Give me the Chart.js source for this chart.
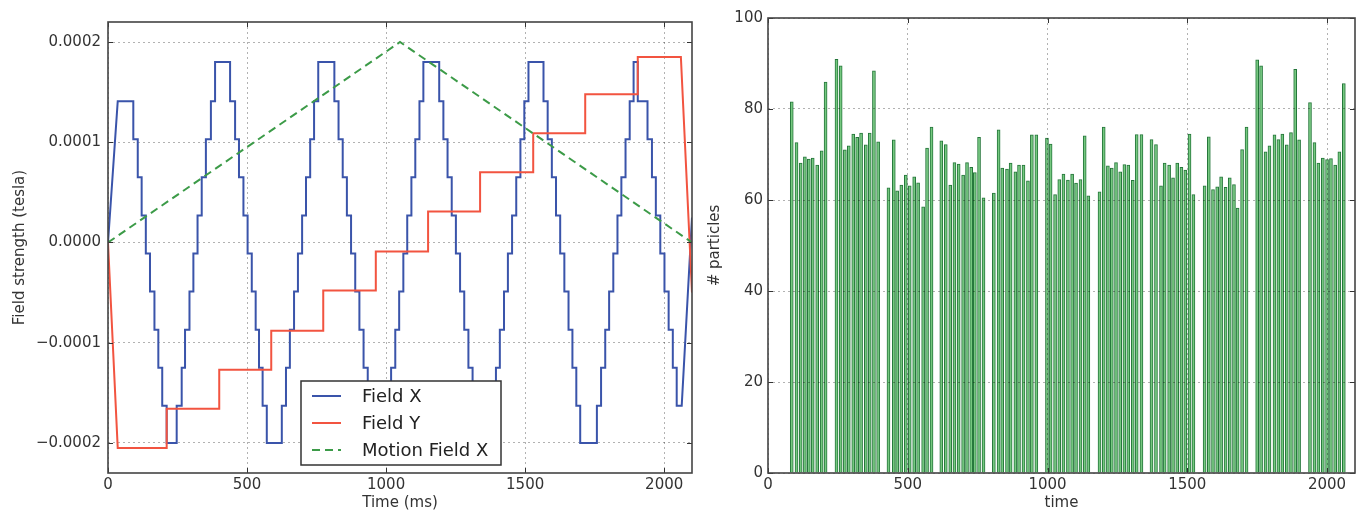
<!DOCTYPE html>
<html>
<head>
<meta charset="utf-8">
<title>Field strength and particle count</title>
<script src="https://cdn.jsdelivr.net/npm/chart.js@4.4.1/dist/chart.umd.min.js"></script>
<style>
  html, body { margin: 0; padding: 0; background: #fff; }
  #wrap { position: relative; width: 1360px; height: 512px; }
  #fieldChart { position: absolute; left: 0; top: 0; }
  #particleChart { position: absolute; left: 700px; top: 0; }
</style>
</head>
<body>
<div id="wrap">
  <canvas id="fieldChart" width="700" height="512"></canvas>
  <canvas id="particleChart" width="660" height="512"></canvas>
</div>
<script>
// tick positions
const timeTicks = [0, 500, 1000, 1500, 2000];
const fieldTicks = [-0.0002, -0.0001, 0, 0.0001, 0.0002];
const particleTicks = [0, 20, 40, 60, 80, 100];

// Field X staircase: time (ms) of each level change and the level after it (microtesla)
const fieldXTime = [
  35, 91, 107, 121, 136, 151, 167, 181, 195, 211,
  247, 265, 277, 293, 307, 322, 337, 352, 370, 385,
  439, 457, 471, 487, 502, 517, 531, 543, 556, 571,
  625, 640, 654, 669, 683, 698, 712, 727, 741, 756,
  814, 829, 844, 859, 874, 889, 904, 919, 934, 949,
  1003, 1018, 1033, 1047, 1062, 1076, 1091, 1105, 1120, 1134,
  1191, 1206, 1221, 1236, 1251, 1266, 1281, 1296, 1311, 1326,
  1380, 1395, 1409, 1424, 1438, 1453, 1468, 1483, 1497, 1512,
  1566, 1581, 1596, 1611, 1626, 1641, 1656, 1670, 1684, 1698,
  1758, 1773, 1788, 1802, 1817, 1832, 1846, 1861, 1876, 1890,
  1905, 1940, 1956, 1970, 1986, 2001, 2016, 2031, 2045
];
const fieldXLevel = [
  141, 103, 65, 27, -11, -49, -87, -125, -163, -200,
  -163, -125, -87, -49, -11, 27, 65, 103, 141, 180,
  141, 103, 65, 27, -11, -49, -87, -125, -163, -200,
  -163, -125, -87, -49, -11, 27, 65, 103, 141, 180,
  141, 103, 65, 27, -11, -49, -87, -125, -163, -200,
  -163, -125, -87, -49, -11, 27, 65, 103, 141, 180,
  141, 103, 65, 27, -11, -49, -87, -125, -163, -200,
  -163, -125, -87, -49, -11, 27, 65, 103, 141, 180,
  141, 103, 65, 27, -11, -49, -87, -125, -163, -200,
  -163, -125, -87, -49, -11, 27, 65, 103, 141, 180,
  141, 103, 65, 27, -11, -49, -87, -125, -163
];
const fieldXStart = [[0, 0]];
const fieldXEnd = [[2063, -163], [2100, 25]];

// Field Y staircase (microtesla)
const fieldYTime = [35, 211, 400, 587, 774, 963, 1151, 1338, 1529, 1716, 1905];
const fieldYLevel = [-205, -166, -127, -88, -48, -9, 31, 70, 109, 148, 185];
const fieldYStart = [[0, 0]];
const fieldYEnd = [[2060, 185], [2100, -50]];

// Motion field X (microtesla)
const motionTime = [0, 1050, 2100];
const motionLevel = [0, 200, 0];

// particle counts per time bin
const particleTime = [
  85, 102, 117, 132, 146, 160, 176, 192, 206,
  245, 260, 275, 289, 305, 319, 333, 350, 364, 379, 394,
  431, 450, 462, 477, 493, 507, 523, 537, 555, 569, 585,
  620, 636, 652, 667, 682, 698, 712, 727, 740, 755, 771,
  808, 825, 838, 855, 868, 885, 898, 914, 930, 944, 960,
  998, 1011, 1027, 1042, 1057, 1073, 1088, 1102, 1118, 1133, 1146,
  1186, 1201, 1216, 1230, 1245, 1260, 1275, 1289, 1305, 1319, 1336,
  1372, 1388, 1406, 1419, 1435, 1449, 1464, 1479, 1493, 1508, 1522,
  1562, 1577, 1592, 1607, 1621, 1637, 1652, 1667, 1680, 1696, 1712,
  1750, 1764, 1780, 1794, 1812, 1826, 1840, 1856, 1871, 1886, 1900,
  1939, 1955, 1969, 1985, 2000, 2014, 2029, 2044, 2060
];
const particleCount = [
  81.6, 72.6, 68.1, 69.5, 69.0, 69.2, 67.7, 70.8, 85.9,
  90.9, 89.5, 71.0, 71.9, 74.5, 73.8, 74.7, 72.1, 74.7, 88.4, 72.8,
  62.7, 73.2, 62.0, 63.3, 65.5, 63.1, 65.1, 63.8, 58.5, 71.4, 76.0,
  73.0, 72.2, 63.3, 68.2, 67.9, 65.5, 68.2, 67.2, 66.0, 73.8, 60.5,
  61.5, 75.4, 67.0, 66.8, 68.1, 66.2, 67.7, 67.7, 64.2, 74.3, 74.3,
  73.6, 72.3, 61.2, 64.5, 65.7, 64.4, 65.7, 63.7, 64.5, 74.1, 60.9,
  61.8, 76.0, 67.5, 67.0, 68.2, 66.2, 67.8, 67.7, 64.3, 74.4, 74.4,
  73.3, 72.2, 63.1, 68.1, 67.7, 64.9, 68.1, 67.2, 66.6, 74.5, 61.2,
  63.1, 73.9, 62.3, 62.9, 65.1, 62.8, 64.9, 63.4, 58.2, 71.1, 76.0,
  90.8, 89.5, 70.6, 71.9, 74.3, 73.3, 74.5, 72.1, 74.8, 88.7, 73.2,
  81.4, 72.6, 68.1, 69.2, 68.9, 69.1, 67.7, 70.6, 85.6
];

const MICRO = 1e-6;

// turn a level-change table into line vertices (vertical jumps at each change)
function stepPoints(start, times, levels, end) {
  const pts = start.map(([t, v]) => ({ x: t, y: v * MICRO }));
  times.forEach((t, i) => {
    if (i > 0) pts.push({ x: t, y: levels[i - 1] * MICRO });
    pts.push({ x: t, y: levels[i] * MICRO });
  });
  end.forEach(([t, v]) => pts.push({ x: t, y: v * MICRO }));
  return pts;
}

// pin a scale's ticks to a fixed list
function fixedTicks(values) {
  return scale => { scale.ticks = values.map(v => ({ value: v })); };
}

Chart.defaults.font.family = "'DejaVu Sans', sans-serif";
Chart.defaults.color = '#333';

const tickFont = { family: "'DejaVu Sans', sans-serif", size: 15 };
const gridStyle = { color: 'rgba(0,0,0,0.3)', lineWidth: 1, drawTicks: false };
const gridBorder = { display: false, dash: [2, 3] };

// frame round the plot area plus inward tick marks on all four sides
const frameTicks = {
  id: 'frameTicks',
  afterDraw(chart) {
    const { ctx, chartArea: a, scales } = chart;
    ctx.save();
    ctx.strokeStyle = '#333';
    ctx.lineWidth = 1;
    ctx.beginPath();
    scales.x.ticks.forEach((t, i) => {
      const px = Math.round(scales.x.getPixelForTick(i)) + 0.5;
      ctx.moveTo(px, a.bottom); ctx.lineTo(px, a.bottom - 5);
      ctx.moveTo(px, a.top); ctx.lineTo(px, a.top + 5);
    });
    scales.y.ticks.forEach((t, i) => {
      const py = Math.round(scales.y.getPixelForTick(i)) + 0.5;
      ctx.moveTo(a.left, py); ctx.lineTo(a.left + 5, py);
      ctx.moveTo(a.right, py); ctx.lineTo(a.right - 5, py);
    });
    ctx.stroke();
    ctx.strokeStyle = '#444';
    ctx.lineWidth = 1.6;
    ctx.strokeRect(a.left, a.top, a.right - a.left, a.bottom - a.top);
    ctx.restore();
  }
};

// boxed legend in the lower middle of the field plot
const fieldLegend = {
  id: 'fieldLegend',
  afterDraw(chart) {
    const { ctx, chartArea: a } = chart;
    const left = a.left + 193, top = a.top + 359, w = 200, h = 84;
    ctx.save();
    ctx.fillStyle = '#fff';
    ctx.fillRect(left, top, w, h);
    ctx.strokeStyle = '#333';
    ctx.lineWidth = 1.5;
    ctx.strokeRect(left, top, w, h);
    ctx.font = "18px 'DejaVu Sans', sans-serif";
    ctx.textBaseline = 'middle';
    chart.data.datasets.forEach((ds, i) => {
      const y = top + 15 + i * 27;
      ctx.strokeStyle = ds.borderColor;
      ctx.lineWidth = ds.borderWidth;
      ctx.setLineDash(ds.borderDash || []);
      ctx.beginPath();
      ctx.moveTo(left + 11, y);
      ctx.lineTo(left + 40, y);
      ctx.stroke();
      ctx.setLineDash([]);
      ctx.fillStyle = '#222';
      ctx.fillText(ds.label, left + 61, y + 1);
    });
    ctx.restore();
  }
};

function teslaLabel(v) {
  if (Math.abs(v) < 1e-9) return '0.0000';
  const s = v.toFixed(4);
  return s[0] === '-' ? '\u2212' + s.slice(1) : s;
}

const plainLabel = v => String(v);

new Chart(document.getElementById('fieldChart'), {
  type: 'line',
  data: {
    datasets: [
      {
        label: 'Field X',
        data: stepPoints(fieldXStart, fieldXTime, fieldXLevel, fieldXEnd),
        borderColor: 'rgb(58, 84, 170)',
        borderWidth: 2,
        pointRadius: 0,
        order: 3
      },
      {
        label: 'Field Y',
        data: stepPoints(fieldYStart, fieldYTime, fieldYLevel, fieldYEnd),
        borderColor: 'rgb(242, 84, 64)',
        borderWidth: 2,
        pointRadius: 0,
        order: 2
      },
      {
        label: 'Motion Field X',
        data: motionTime.map((t, i) => ({ x: t, y: motionLevel[i] * MICRO })),
        borderColor: 'rgb(60, 155, 72)',
        borderWidth: 2,
        borderDash: [8, 5],
        pointRadius: 0,
        order: 1
      }
    ]
  },
  options: {
    responsive: false,
    animation: false,
    layout: { padding: { top: 22, right: 8, left: 0, bottom: 0 } },
    plugins: { legend: { display: false }, tooltip: { enabled: false } },
    scales: {
      x: {
        type: 'linear',
        min: 0,
        max: 2100,
        afterBuildTicks: fixedTicks(timeTicks),
        ticks: { font: tickFont, color: '#333', padding: 3, maxRotation: 0, autoSkip: false, callback: plainLabel },
        grid: gridStyle,
        border: gridBorder,
        title: { display: true, text: 'Time (ms)', font: tickFont, color: '#333', padding: 0 },
        afterFit: s => { s.height = 39; }
      },
      y: {
        type: 'linear',
        min: -0.00023,
        max: 0.00022,
        afterBuildTicks: fixedTicks(fieldTicks),
        ticks: { font: tickFont, color: '#333', padding: 7, autoSkip: false, callback: teslaLabel },
        grid: gridStyle,
        border: gridBorder,
        title: { display: true, text: 'Field strength (tesla)', font: tickFont, color: '#333', padding: { top: 11, bottom: 0 } },
        afterFit: s => { s.width = 108; }
      }
    }
  },
  plugins: [frameTicks, fieldLegend]
});

new Chart(document.getElementById('particleChart'), {
  type: 'bar',
  data: {
    datasets: [{
      label: '# particles',
      data: particleTime.map((t, i) => ({ x: t, y: particleCount[i] })),
      backgroundColor: 'rgb(118, 200, 128)',
      borderColor: 'rgb(36, 118, 58)',
      borderWidth: 1,
      borderSkipped: 'start',
      barThickness: 3
    }]
  },
  options: {
    responsive: false,
    animation: false,
    layout: { padding: { top: 18, right: 5, left: 0, bottom: 0 } },
    plugins: { legend: { display: false }, tooltip: { enabled: false } },
    scales: {
      x: {
        type: 'linear',
        min: 0,
        max: 2100,
        offset: false,
        afterBuildTicks: fixedTicks(timeTicks),
        ticks: { font: tickFont, color: '#333', padding: 3, maxRotation: 0, autoSkip: false, callback: plainLabel },
        grid: Object.assign({}, gridStyle, { offset: false, z: 1 }),
        border: gridBorder,
        title: { display: true, text: 'time', font: tickFont, color: '#333', padding: 0 },
        afterFit: s => { s.height = 39; }
      },
      y: {
        type: 'linear',
        min: 0,
        max: 100,
        afterBuildTicks: fixedTicks(particleTicks),
        ticks: { font: tickFont, color: '#333', padding: 5, autoSkip: false, callback: plainLabel },
        grid: Object.assign({}, gridStyle, { z: 1 }),
        border: gridBorder,
        title: { display: true, text: '# particles', font: tickFont, color: '#333', padding: { top: 6, bottom: 0 } },
        afterFit: s => { s.width = 68; }
      }
    }
  },
  plugins: [frameTicks]
});
</script>
</body>
</html>
